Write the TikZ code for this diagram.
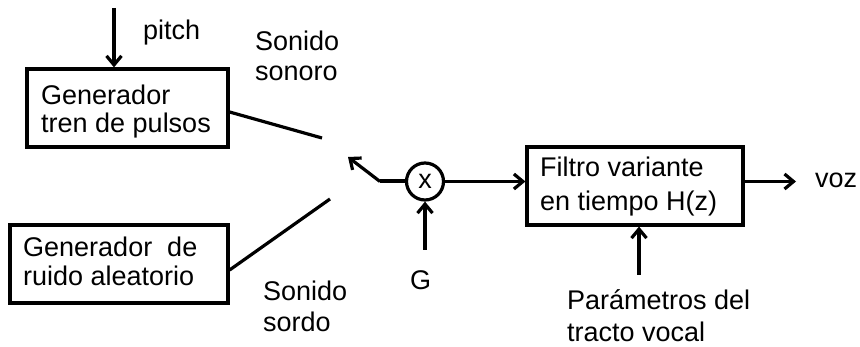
\documentclass[tikz,border=0pt]{standalone}
\usepackage{fontspec}
\setmainfont{Liberation Sans}
\usetikzlibrary{arrows.meta}

\tikzset{
  lbl/.style={anchor=base west, inner sep=0pt, font=\fontsize{27}{31}\selectfont},
  blk/.style={draw, line width=3.2pt, inner sep=0pt},
  wire/.style={line width=3.2pt},
  arr/.style={line width=3.2pt, -{Straight Barb[length=9pt,width=15pt,line width=3.2pt]}},
}

\begin{document}
\begin{tikzpicture}[x=1pt, y=-1pt]
  \useasboundingbox (0,0) rectangle (860,347);

  % source generators
  \node[blk, minimum width=201pt, minimum height=78pt] (tren) at (127.5,108) {};
  \node[blk, minimum width=218pt, minimum height=78pt] (ruido) at (119,264) {};
  \node[lbl] (trenA) at (41,105) {Generador};
  \node[lbl] (trenB) at (41,133) {tren de pulsos};
  \node[lbl] (ruidoA) at (23,257) {Generador\ \ de};
  \node[lbl] (ruidoB) at (23,286) {ruido aleatorio};

  % pitch input
  \coordinate (pitchin) at (114,8);
  \draw[arr] (pitchin) -- (pitchin |- tren.north);
  \node[lbl] (pitch) at (143,40) {pitch};

  % switch contacts
  \coordinate (sonoroend) at (322,138);
  \coordinate (sordoend) at (330,199);
  \draw[wire] ([yshift=-4pt]tren.east) -- (sonoroend);
  \draw[wire] ([yshift=-6pt]ruido.east) -- (sordoend);
  \node[lbl] (sonA) at (255,51) {Sonido};
  \node[lbl] (sonB) at (255,81) {sonoro};
  \node[lbl] (sorA) at (263,301) {Sonido};
  \node[lbl] (sorB) at (263,332) {sordo};

  % gain multiplier
  \node[draw, circle, line width=3.2pt, minimum size=37pt, inner sep=0pt,
        font=\fontsize{27}{31}\selectfont] (mult) at (425,181.5) {\raisebox{1pt}{x}};
  \coordinate (pivot) at (380,181.5);
  \coordinate (lever) at (348,157);
  \draw[line width=4pt] (pivot) -- (mult.west);
  \draw[arr] (pivot) -- (lever);
  \coordinate (gin) at (425,250);
  \draw[arr] (gin) -- (mult.south);
  \node[lbl] (G) at (410,290) {G};

  % vocal tract filter
  \node[blk, minimum width=216pt, minimum height=78pt] (filt) at (635,186) {};
  \node[lbl] (filtA) at (540,177) {Filtro variante};
  \node[lbl] (filtB) at (540,211) {en tiempo H(z)};
  \draw[arr] (mult.east) -- (mult.east -| filt.west);
  \coordinate (out) at (796,181.5);
  \draw[arr] (mult.east -| filt.east) -- (out);
  \node[lbl] (voz) at (815,188) {voz};

  % tract parameters
  \coordinate (parin) at (639,275);
  \draw[arr] (parin) -- (parin |- filt.south);
  \node[lbl] (parA) at (567,310) {Parámetros del};
  \node[lbl] (parB) at (567,342) {tracto vocal};
\end{tikzpicture}
\end{document}
